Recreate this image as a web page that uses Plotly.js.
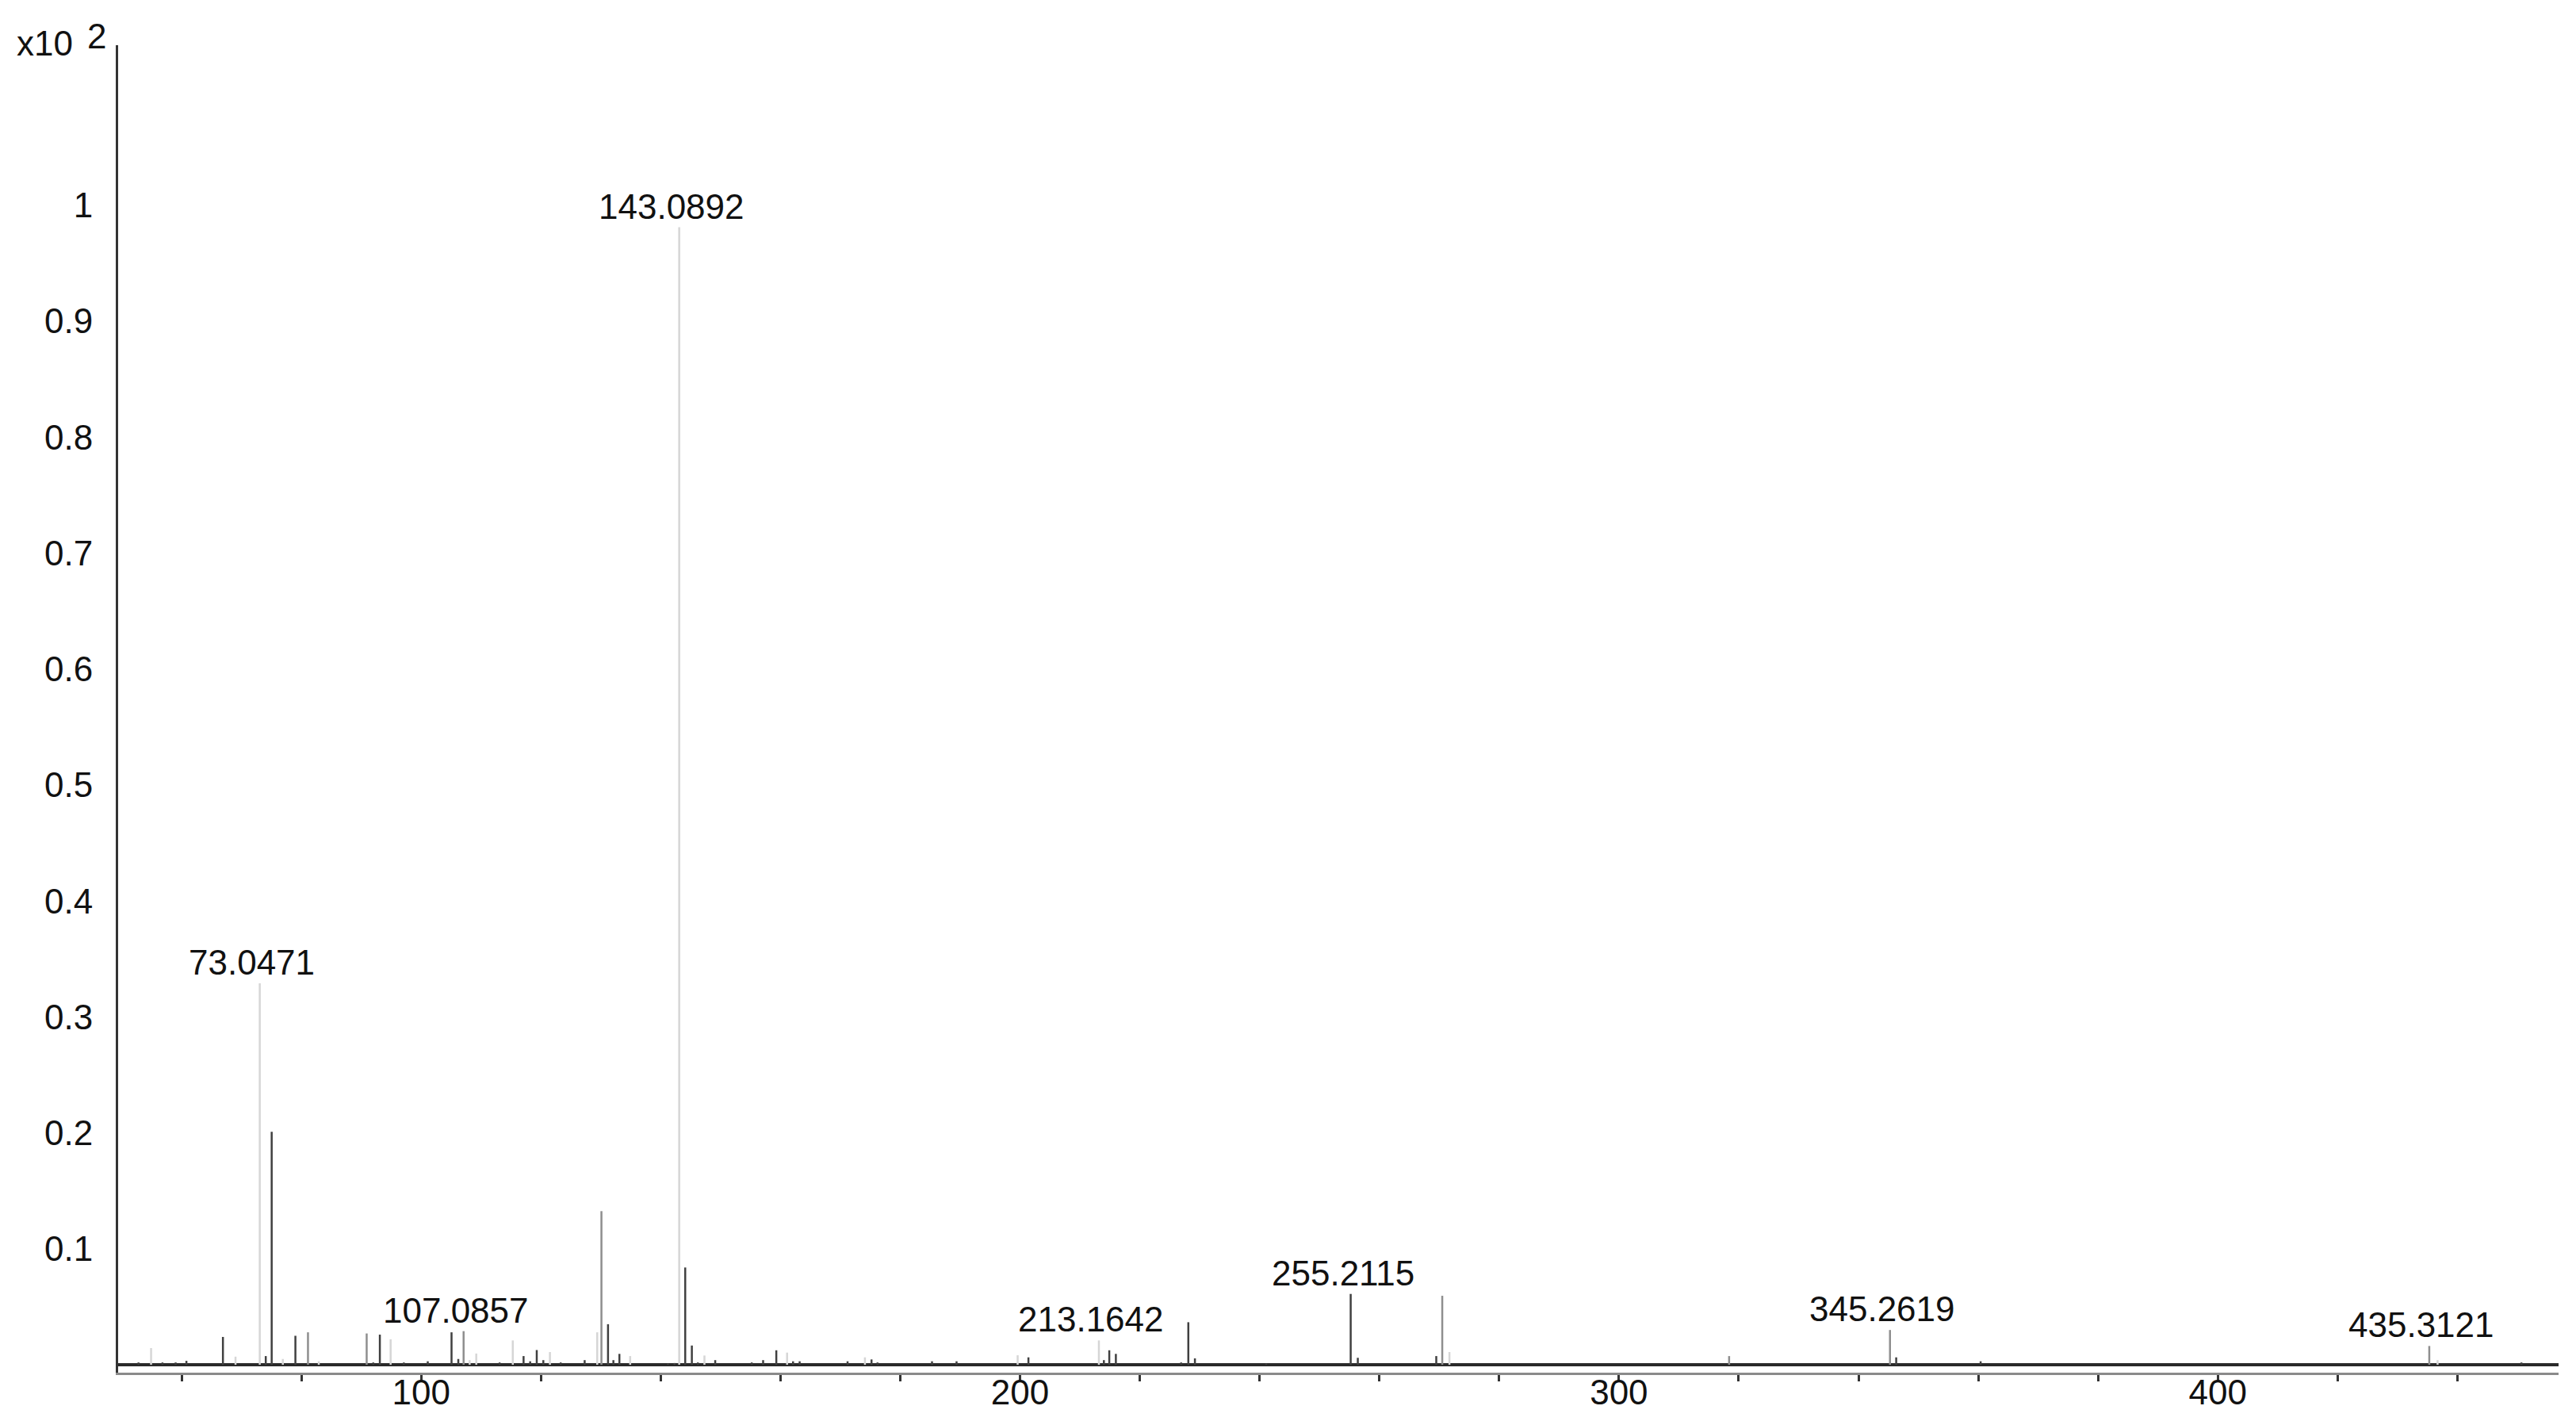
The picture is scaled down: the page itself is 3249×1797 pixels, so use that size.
<!DOCTYPE html>
<html>
<head>
<meta charset="utf-8">
<script src="https://cdn.plot.ly/plotly-3.0.1.min.js"></script>
<style>
  html, body { margin: 0; padding: 0; background: #fff; }
  #chart { width: 3249px; height: 1797px; }
</style>
</head>
<body>
<div id="chart"></div>
<script>
// Mass spectrum, intensities in units of x10^2

// light grey sticks
const mzLight = [54.9, 69.0, 73.0471, 76.9, 82.9, 94.9, 108.1, 109.2, 115.3, 121.5, 129.4,
    134.9, 143.0892, 147.3, 161.1, 174.1, 199.6, 213.1642, 271.7, 436.7];
const intLight = [0.0144, 0.007, 0.329, 0.005, 0.003, 0.022, 0.004, 0.0097, 0.021, 0.011, 0.028,
    0.0075, 0.981, 0.008, 0.0105, 0.0064, 0.0082, 0.021, 0.011, 0.004];

// mid grey sticks
const mzMid = [81.1, 90.9, 107.0857, 130.1, 270.5, 318.4, 345.2619, 435.3121];
const intMid = [0.028, 0.027, 0.029, 0.1325, 0.0595, 0.0075, 0.030, 0.0162];

// dark sticks
const mzDark = [52.8, 56.8, 59.0, 60.8, 66.9, 74.05, 75.04, 79.0, 92.0, 93.1, 97.1, 101.1,
    105.07, 106.2, 113.1, 117.1, 118.2, 119.3, 120.4, 123.3, 127.3, 131.2, 132.1, 133.1,
    141.2, 142.3, 144.09, 145.2, 146.2, 149.1, 155.2, 157.1, 159.3, 162.1, 163.2, 171.2,
    175.2, 176.2, 185.3, 189.4, 201.4, 214.0, 214.9, 216.0, 226.9, 228.1, 229.2, 241.1,
    255.2115, 256.4, 269.5, 346.3, 360.4, 450.7];
const intDark = [0.002, 0.002, 0.002, 0.0034, 0.024, 0.0075, 0.201, 0.025, 0.002, 0.026, 0.002, 0.003,
    0.028, 0.005, 0.002, 0.0075, 0.003, 0.0127, 0.004, 0.002, 0.004, 0.035, 0.004, 0.0094,
    0.001, 0.0015, 0.0839, 0.0166, 0.002, 0.004, 0.002, 0.004, 0.0125, 0.003, 0.003, 0.003,
    0.0046, 0.002, 0.003, 0.003, 0.0064, 0.004, 0.0125, 0.0094, 0.002, 0.0367, 0.0055, 0.001,
    0.0611, 0.006, 0.0075, 0.0064, 0.003, 0.002];

// annotated peaks
const labelMz = [73.0471, 107.0857, 143.0892, 213.1642, 255.2115, 345.2619, 435.3121];
const labelInt = [0.329, 0.029, 0.981, 0.021, 0.0611, 0.030, 0.0162];

const yTickVals = [0.1, 0.2, 0.3, 0.4, 0.5, 0.6, 0.7, 0.8, 0.9, 1];
const yTickText = ['0.1', '0.2', '0.3', '0.4', '0.5', '0.6', '0.7', '0.8', '0.9', '1'];

const FONT = 'Liberation Sans, Arial, sans-serif';

// turn peak lists into vertical sticks separated by gaps
function sticks(mz, inten, color) {
    const x = [];
    const y = [];
    mz.forEach((m, i) => {
        x.push(m, m, null);
        y.push(0, inten[i], null);
    });
    return {
        x, y,
        type: 'scatter',
        mode: 'lines',
        line: { color: color, width: 2.5 },
        hoverinfo: 'skip',
        showlegend: false
    };
}

const data = [
    sticks(mzLight, intLight, '#d6d6d6'),
    sticks(mzMid, intMid, '#8e8e8e'),
    sticks(mzDark, intDark, '#404040')
];

const annotations = labelMz.map((m, i) => ({
    x: m,
    y: labelInt[i],
    xref: 'x',
    yref: 'y',
    text: m.toFixed(4),
    showarrow: false,
    xanchor: 'center',
    yanchor: 'bottom',
    xshift: -10,
    yshift: 0,
    font: { family: FONT, size: 44, color: '#111' }
}));

// the "x10 2" scale marker in the top-left corner
annotations.push({
    x: -0.0299, y: 1.0012, xref: 'paper', yref: 'paper',
    text: 'x10', showarrow: false, xanchor: 'center', yanchor: 'middle',
    font: { family: FONT, size: 44, color: '#111' }
});
annotations.push({
    x: -0.0088, y: 1.0066, xref: 'paper', yref: 'paper',
    text: '2', showarrow: false, xanchor: 'center', yanchor: 'middle',
    font: { family: FONT, size: 44, color: '#111' }
});

const layout = {
    width: 3249,
    height: 1797,
    margin: { l: 149, r: 22, t: 57, b: 66 },
    paper_bgcolor: '#fff',
    plot_bgcolor: '#fff',
    showlegend: false,
    font: { family: FONT, size: 44, color: '#111' },
    xaxis: {
        range: [49.4, 456.9],
        dtick: 100,
        tick0: 0,
        showgrid: false,
        zeroline: false,
        showline: true,
        linecolor: '#8a8a8a',
        linewidth: 3,
        ticks: 'outside',
        ticklen: 8,
        tickwidth: 3,
        tickcolor: '#333',
        ticklabelstandoff: -24,
        minor: { dtick: 20, ticks: 'outside', ticklen: 8, tickwidth: 3, tickcolor: '#333' },
        tickfont: { family: FONT, size: 44, color: '#111' }
    },
    yaxis: {
        range: [-0.0068, 1.138],
        tickvals: yTickVals,
        ticktext: yTickText,
        ticks: '',
        ticklabelstandoff: 20,
        showgrid: false,
        zeroline: true,
        zerolinecolor: '#2a2a2a',
        zerolinewidth: 4,
        showline: true,
        linecolor: '#333',
        linewidth: 3,
        tickfont: { family: FONT, size: 44, color: '#111' }
    },
    annotations: annotations
};

Plotly.newPlot('chart', data, layout, { staticPlot: true, displayModeBar: false });
</script>
</body>
</html>
